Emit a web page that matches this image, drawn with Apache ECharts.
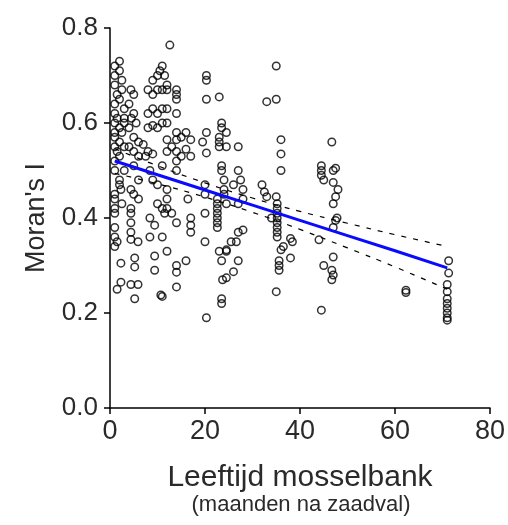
<!DOCTYPE html>
<html lang="nl">

<head>
    <meta charset="UTF-8">
    <title>Moran's I vs leeftijd mosselbank</title>
    <script src="https://cdn.jsdelivr.net/npm/echarts@6.0.0/dist/echarts.min.js"></script>
</head>
<style>
    html, body {
        margin: 0;
        padding: 0;
        background-color: #fff;
    }

    #main {
        width: 508px;
        height: 525px;
    }
</style>

<body>
    <div id="main"></div>

    <script>
        // [leeftijd (maanden), Moran's I] per cohort
        const cohortA = [[1, 0.72], [1, 0.70], [1, 0.68], [1.5, 0.66], [1, 0.64], [1, 0.62], [1.5, 0.61], [1, 0.60],
            [2, 0.59], [1, 0.58], [1, 0.57], [2, 0.56], [1, 0.55], [1.5, 0.54], [2, 0.53], [1, 0.52], [1, 0.50],
            [2, 0.47], [2.3, 0.46], [1, 0.45], [1, 0.44], [1, 0.42], [1, 0.41], [1, 0.38], [1, 0.36], [1.5, 0.35],
            [1, 0.34], [2.3, 0.305], [2.3, 0.265], [1.5, 0.25], [2, 0.73], [2, 0.71], [2.5, 0.69], [2.5, 0.67],
            [2, 0.65], [3, 0.63], [3, 0.61], [3, 0.60], [2.5, 0.58], [3, 0.55], [2, 0.48], [3, 0.50], [2.5, 0.43]];
        const cohortB = [[4.4, 0.67], [5, 0.66], [4, 0.64], [5, 0.62], [4.5, 0.61], [5.5, 0.60], [4, 0.59], [5, 0.57],
            [4, 0.55], [5, 0.54], [6, 0.56], [5, 0.51], [4.4, 0.46], [5, 0.45], [6, 0.44], [4.4, 0.42], [4.4, 0.41],
            [4.4, 0.39], [4.4, 0.37], [4.4, 0.355], [5.9, 0.35], [5.2, 0.316], [5.2, 0.297], [4.4, 0.26], [5.9, 0.26],
            [5.2, 0.23], [6, 0.48], [6, 0.53]];
        const cohortC = [[8, 0.67], [9, 0.66], [10, 0.67], [11, 0.67], [9, 0.69], [10, 0.70], [10.5, 0.71], [11, 0.72],
            [11.5, 0.70], [12.6, 0.764], [8, 0.62], [9, 0.63], [10, 0.62], [11, 0.63], [12, 0.63], [8, 0.59], [9, 0.595],
            [10, 0.59], [11, 0.60], [12, 0.60], [7, 0.555], [8, 0.54], [9, 0.535], [7.5, 0.53], [8.4, 0.50], [9, 0.48],
            [10, 0.47], [8.4, 0.40], [9.4, 0.385], [8.4, 0.36], [9.4, 0.32], [9.4, 0.29], [11, 0.36], [10, 0.43],
            [11, 0.42], [11.5, 0.41], [10.7, 0.238], [11, 0.51], [12, 0.68], [12, 0.67]];
        const cohortD = [[12, 0.565], [12, 0.54], [12, 0.46], [12, 0.44], [12, 0.42], [13, 0.41], [14, 0.39], [12, 0.33],
            [14, 0.30], [14, 0.286], [14, 0.255], [11, 0.235], [14, 0.65], [14, 0.66], [14, 0.67], [14, 0.62], [14, 0.58],
            [16, 0.58], [14, 0.565], [17, 0.565], [14, 0.54], [16, 0.545], [14, 0.52], [17, 0.53], [14, 0.50],
            [16.4, 0.44], [17, 0.40], [17, 0.385], [17, 0.37], [16, 0.31], [15, 0.57], [13, 0.55], [15, 0.53]];
        const cohortE = [[20.3, 0.70], [20.3, 0.69], [20.3, 0.65], [20.3, 0.58], [20.3, 0.537], [20, 0.41], [20, 0.35],
            [20.3, 0.19], [20, 0.45], [20, 0.47], [19.5, 0.56]];
        const cohortF = [[23, 0.655], [23.5, 0.60], [23.5, 0.59], [23, 0.57], [23, 0.56], [23, 0.55], [23.5, 0.51],
            [23.5, 0.50], [22.6, 0.44], [22.6, 0.43], [22.6, 0.42], [22.6, 0.41], [22.6, 0.40], [22.6, 0.39],
            [22.6, 0.38], [23, 0.33], [24.5, 0.33], [23.5, 0.31], [23.7, 0.27], [23.5, 0.23], [23.5, 0.22],
            [24.5, 0.58], [24.5, 0.55], [24, 0.46], [24, 0.45], [24.5, 0.43], [24, 0.48]];
        const cohortG = [[27, 0.55], [27, 0.50], [27.5, 0.48], [26, 0.47], [28, 0.44], [28, 0.375], [27, 0.37],
            [25.5, 0.35], [26.6, 0.35], [24.5, 0.333], [27, 0.31], [26, 0.287], [24.5, 0.274], [28, 0.46], [27, 0.43]];
        const cohortH = [[35, 0.72], [33, 0.645], [35, 0.65], [36, 0.565], [36, 0.535], [36, 0.50], [32, 0.47],
            [32.5, 0.455], [33, 0.445], [35, 0.445], [35.2, 0.43], [35.2, 0.42], [35.2, 0.41], [35.2, 0.40],
            [35.2, 0.39], [35.2, 0.38], [35.2, 0.37], [35.2, 0.36], [36, 0.333], [35.6, 0.31], [35.6, 0.30],
            [35.6, 0.29], [35, 0.245], [38, 0.357], [38.4, 0.35], [38, 0.316], [34, 0.40], [36.5, 0.34]];
        const cohortI = [[44.5, 0.49], [44.5, 0.50], [44.5, 0.51], [46.7, 0.56], [47, 0.50], [47.5, 0.505], [47, 0.475],
            [48, 0.46], [47.5, 0.445], [47, 0.43], [47.8, 0.40], [47, 0.38], [44, 0.354], [45, 0.30], [47, 0.318],
            [46.7, 0.29], [46.7, 0.27], [47, 0.28], [44.5, 0.206], [45, 0.48], [47.5, 0.395]];
        const cohortJ = [[62.3, 0.248], [62.3, 0.243]];
        const cohortK = [[71.3, 0.31], [71.3, 0.284], [71, 0.26], [71, 0.245], [71, 0.23], [71, 0.22], [71, 0.21],
            [71, 0.20], [71, 0.19], [71, 0.185]];

        // regression line and 95% band
        const fitX = [1, 10, 20, 30, 40, 50, 60, 71];
        const fitY = [0.520, 0.491, 0.459, 0.427, 0.395, 0.363, 0.331, 0.295];
        const bandUpper = [0.546, 0.510, 0.474, 0.442, 0.414, 0.389, 0.365, 0.340];
        const bandLower = [0.494, 0.472, 0.444, 0.412, 0.376, 0.337, 0.297, 0.250];

        const xTicks = [0, 20, 40, 60, 80];
        const yTicks = [0.0, 0.2, 0.4, 0.6, 0.8];

        const points = [].concat(cohortA, cohortB, cohortC, cohortD, cohortE, cohortF,
            cohortG, cohortH, cohortI, cohortJ, cohortK);
        const pair = (ys) => fitX.map((x, i) => [x, ys[i]]);

        const textColor = '#2a2a2a';
        const font = 'Liberation Sans, Arial, sans-serif';

        let myChart = echarts.init(document.getElementById('main'));

        option = {
            backgroundColor: '#fff',
            animation: false,
            grid: {
                left: 110,
                right: 16,
                top: 28,
                bottom: 117
            },
            xAxis: {
                type: 'value',
                min: xTicks[0],
                max: xTicks[xTicks.length - 1],
                interval: 20,
                name: 'Leeftijd mosselbank',
                nameLocation: 'middle',
                nameGap: 55,
                nameTextStyle: { fontSize: 30, color: textColor, fontFamily: font },
                axisLine: { lineStyle: { color: '#000', width: 1.5 } },
                axisTick: { length: 6, lineStyle: { color: '#000', width: 1.5 } },
                axisLabel: { fontSize: 27, color: textColor, fontFamily: font, margin: 10 },
                splitLine: { show: false }
            },
            yAxis: {
                type: 'value',
                min: yTicks[0],
                max: yTicks[yTicks.length - 1],
                interval: 0.2,
                name: "Moran's I",
                nameLocation: 'middle',
                nameGap: 60,
                nameTextStyle: { fontSize: 27, color: textColor, fontFamily: font },
                axisLine: { show: true, lineStyle: { color: '#000', width: 1.5 } },
                axisTick: { show: true, length: 6, lineStyle: { color: '#000', width: 1.5 } },
                axisLabel: {
                    fontSize: 26, color: textColor, fontFamily: font, margin: 12,
                    formatter: v => v.toFixed(1)
                },
                splitLine: { show: false }
            },
            graphic: [
                {
                    type: 'text',
                    x: 301,
                    y: 505,
                    style: {
                        text: '(maanden na zaadval)',
                        font: '22px ' + font,
                        fill: textColor,
                        align: 'center',
                        verticalAlign: 'middle'
                    }
                }
            ],
            series: [
                {
                    type: 'scatter',
                    data: points,
                    symbol: 'circle',
                    symbolSize: 7.5,
                    itemStyle: { color: 'transparent', borderColor: '#000', borderWidth: 1.5 },
                    z: 2
                },
                {
                    type: 'line',
                    data: pair(bandUpper),
                    smooth: true,
                    showSymbol: false,
                    lineStyle: { color: '#000', width: 1.2, type: [5, 7] },
                    z: 3
                },
                {
                    type: 'line',
                    data: pair(bandLower),
                    smooth: true,
                    showSymbol: false,
                    lineStyle: { color: '#000', width: 1.2, type: [5, 7] },
                    z: 3
                },
                {
                    type: 'line',
                    data: pair(fitY),
                    showSymbol: false,
                    lineStyle: { color: '#0a0aff', width: 3 },
                    z: 4
                }
            ]
        };

        myChart.setOption(option);
    </script>

</body>

</html>
